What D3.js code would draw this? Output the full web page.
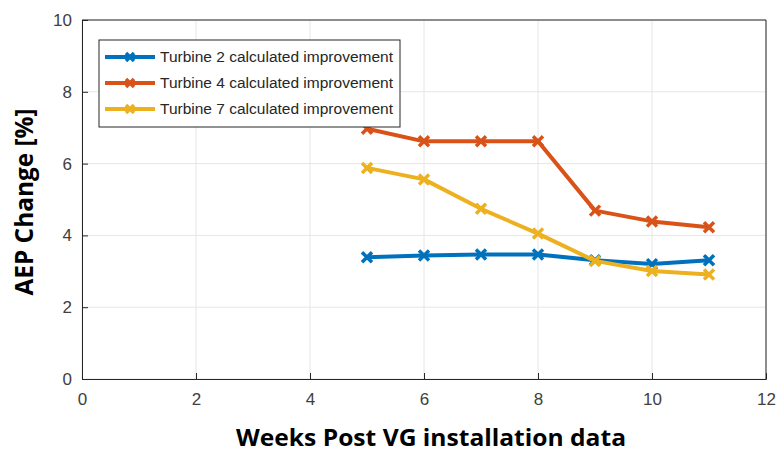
<!DOCTYPE html>
<html>
<head>
<meta charset="utf-8">
<script src="https://cdn.jsdelivr.net/npm/d3@7"></script>
<style>
  body { margin: 0; background: #fff; }
  text { font-family: "Liberation Sans", Arial, sans-serif; }
</style>
</head>
<body>
<script>
// data
var weeks = [5, 6, 7, 8, 9, 10, 11];
var turbine2 = [3.39, 3.44, 3.47, 3.47, 3.31, 3.20, 3.31];
var turbine4 = [6.97, 6.62, 6.62, 6.62, 4.69, 4.39, 4.23];
var turbine7 = [5.88, 5.56, 4.74, 4.05, 3.29, 3.01, 2.91];
var seriesNames = ["Turbine 2 calculated improvement", "Turbine 4 calculated improvement", "Turbine 7 calculated improvement"];
var seriesColors = ["#0072BD", "#D95319", "#EDB120"];
var xTicks = [0, 2, 4, 6, 8, 10, 12];
var yTicks = [0, 2, 4, 6, 8, 10];

var margin = { top: 20, right: 10, bottom: 73, left: 82 },
    width = 776 - margin.left - margin.right,
    height = 452 - margin.top - margin.bottom;

var svg = d3.select("body").append("svg")
    .attr("width", 776).attr("height", 452);
var g = svg.append("g")
    .attr("transform", "translate(" + margin.left + "," + margin.top + ")");

var x = d3.scaleLinear().domain([0, 12]).range([0, width]);
var y = d3.scaleLinear().domain([0, 10]).range([height, 0]);

// grid
g.append("g").selectAll("line").data(xTicks).enter().append("line")
    .attr("x1", d => x(d)).attr("x2", d => x(d))
    .attr("y1", 0).attr("y2", height)
    .attr("stroke", "#e6e6e6").attr("stroke-width", 1);
g.append("g").selectAll("line").data(yTicks).enter().append("line")
    .attr("y1", d => y(d)).attr("y2", d => y(d))
    .attr("x1", 0).attr("x2", width)
    .attr("stroke", "#e6e6e6").attr("stroke-width", 1);

// axes (inward ticks, matlab style)
var xAxis = g.append("g").attr("transform", "translate(0," + height + ")")
    .call(d3.axisBottom(x).tickValues(xTicks).tickSize(-6).tickPadding(14));
var yAxis = g.append("g")
    .call(d3.axisLeft(y).tickValues(yTicks).tickSize(-6).tickPadding(10));
[xAxis, yAxis].forEach(function(a) {
    a.select(".domain").attr("stroke", "#262626");
    a.selectAll(".tick line").attr("stroke", "#262626");
    a.selectAll(".tick text").attr("fill", "#404040")
        .style("font-size", "17px").attr("font-family", "Liberation Sans Narrow, Liberation Sans, Arial");
});
// box top/right
g.append("line").attr("x1", 0).attr("x2", width).attr("y1", 0).attr("y2", 0).attr("stroke", "#262626");
g.append("line").attr("x1", width).attr("x2", width).attr("y1", 0).attr("y2", height).attr("stroke", "#262626");

// series
var series = [turbine2, turbine4, turbine7];
var line = d3.line().x((d, i) => x(weeks[i])).y(d => y(d));

function cross(sel, cx, cy, s, color) {
    sel.append("path")
        .attr("d", "M" + (cx - s) + "," + (cy - s) + "L" + (cx + s) + "," + (cy + s) +
                   "M" + (cx - s) + "," + (cy + s) + "L" + (cx + s) + "," + (cy - s))
        .attr("stroke", color).attr("stroke-width", 3.5).attr("fill", "none");
}

series.forEach(function(vals, k) {
    g.append("path").datum(vals)
        .attr("d", line)
        .attr("fill", "none")
        .attr("stroke", seriesColors[k])
        .attr("stroke-width", 4)
        .attr("stroke-linejoin", "round");
    var mg = g.append("g");
    vals.forEach(function(v, i) { cross(mg, x(weeks[i]), y(v), 5, seriesColors[k]); });
});

// legend
var lg = svg.append("g").attr("transform", "translate(99,40)");
lg.append("rect").attr("width", 301).attr("height", 87)
    .attr("fill", "#fff").attr("stroke", "#262626").attr("stroke-width", 1);
seriesNames.forEach(function(name, k) {
    var yy = 17 + k * 26;
    lg.append("line").attr("x1", 6).attr("x2", 56).attr("y1", yy).attr("y2", yy)
        .attr("stroke", seriesColors[k]).attr("stroke-width", 4);
    cross(lg, 31, yy, 4, seriesColors[k]);
    lg.append("text").attr("x", 61).attr("y", yy + 5)
        .attr("fill", "#262626").style("font-size", "14px")
        .attr("textLength", 233).attr("lengthAdjust", "spacingAndGlyphs")
        .text(name);
});

// axis labels
svg.append("text")
    .attr("x", 431).attr("y", 446)
    .attr("text-anchor", "middle")
    .style("font-family", "'Open Sans', Lato, sans-serif")
    .style("font-weight", "bold").style("font-size", "23px")
    .attr("textLength", 390).attr("lengthAdjust", "spacingAndGlyphs")
    .attr("fill", "#000")
    .text("Weeks Post VG installation data");
svg.append("text")
    .attr("transform", "translate(33,202) rotate(-90)")
    .attr("text-anchor", "middle")
    .style("font-family", "'Open Sans', Lato, sans-serif")
    .style("font-weight", "bold").style("font-size", "25px")
    .attr("textLength", 187).attr("lengthAdjust", "spacingAndGlyphs")
    .attr("fill", "#000")
    .text("AEP Change [%]");
</script>
</body>
</html>
